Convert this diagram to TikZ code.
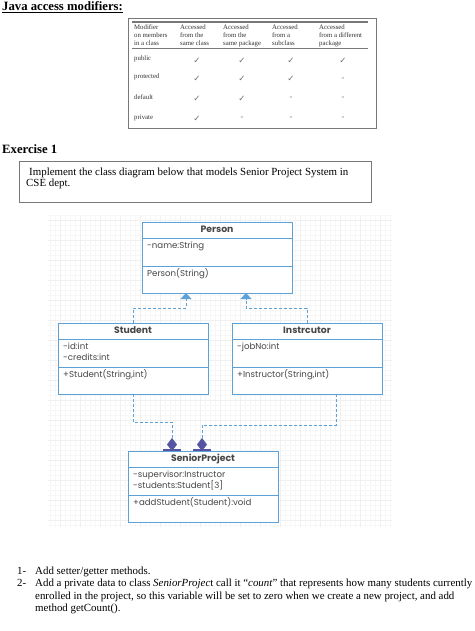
\documentclass[tikz,border=0pt]{standalone}
\usepackage{fontspec}
\setmainfont{Liberation Serif}
\newfontfamily\umlfont{Poppins}
\newfontfamily\symfont{DejaVu Sans}
\usepackage{xcolor}
\usetikzlibrary{calc, positioning, arrows.meta}

\definecolor{umlblue}{RGB}{92,161,216}
\definecolor{umlgray}{RGB}{70,70,70}
\definecolor{diamondblue}{RGB}{84,84,163}
\definecolor{tablegray}{RGB}{120,120,120}

\newcommand{\umlclass}[5]{%
  \node[class box] (#1) at (#2) {};
  \node[class title] (#1-title) at ($(#1.north)+(0,10.8)$) {#3};
  \draw[class line] ($(#1.north west)+(0,16)$) -- ($(#1.north east)+(0,16)$);
  \draw[class line] ($(#1.north west)+(0,44)$) -- ($(#1.north east)+(0,44)$);
  \foreach \txt [count=\k] in {#4}
    \node[class text] (#1-attr\k) at ($(#1.north west)+(5,15.5+11*\k)$) {\txt};
  \foreach \txt [count=\k] in {#5}
    \node[class text] (#1-op\k) at ($(#1.north west)+(5,43+11*\k)$) {\txt};
}

\begin{document}
\begin{tikzpicture}[x=1pt,y=-1pt,
    heading/.style={anchor=base west,inner sep=0pt,font=\bfseries\fontsize{12.7}{15}\selectfont},
    body/.style={anchor=base west,inner sep=0pt,font=\fontsize{10.9}{12.5}\selectfont},
    table head/.style={anchor=north west,align=left,inner sep=0pt,text=black!80,font=\fontsize{6.8}{7.6}\selectfont},
    table text/.style={anchor=base west,inner sep=0pt,text=black!80,font=\fontsize{6.8}{7.6}\selectfont},
    table mark/.style={inner sep=0pt,text=black!55,font=\fontsize{8.5}{9}\selectfont},
    class box/.style={draw=umlblue,line width=0.9pt,fill=white,anchor=north west,
      minimum width=150pt,minimum height=71pt,inner sep=0pt,outer sep=0pt},
    class line/.style={draw=umlblue,line width=0.9pt},
    class title/.style={anchor=base,inner sep=0pt,text=umlgray,font=\umlfont\bfseries\fontsize{9.3}{10}\selectfont},
    class text/.style={anchor=base west,inner sep=0pt,text=umlgray,font=\umlfont\fontsize{8.6}{10}\selectfont},
    realize/.style={draw=umlblue,line width=0.9pt,dash pattern=on 3pt off 2pt,
      -{Triangle[width=11pt,length=6pt]}},
    compose/.style={draw=umlblue,line width=0.9pt,dash pattern=on 3pt off 2pt,
      -{Diamond[width=10pt,length=13pt,color=diamondblue,fill=diamondblue]}}]

  \fill[white] (0,0) rectangle (474,631);
  \useasboundingbox (0,0) rectangle (474,631);

  \node[heading] (title) at (2,11) {\underline{Java access modifiers:}};

  % access table
  \draw[tablegray,line width=0.8pt] (128,18) rectangle (376,128);
  \draw[tablegray,line width=1.2pt] (132,22) -- (368,22);
  \draw[tablegray,line width=0.6pt] (132,48) -- (368,48);
  \foreach \x/\txt [count=\i] in {134/{Modifier\\on members\\in a class},
      180/{Accessed\\from the\\same class}, 223/{Accessed\\from the\\same package},
      272/{Accessed\\from a\\subclass}, 319/{Accessed\\from a different\\package}}
    \node[table head] (head\i) at (\x,25) {\txt};
  \foreach \txt/\y [count=\r] in {public/60.5, protected/79, default/100, private/120}
    \node[table text] (row\r) at (134,\y) {\txt};
  \foreach \r/\y/\n in {1/61/4, 2/79/3, 3/98.5/2, 4/118.5/1}
    \foreach \x [count=\c] in {197,242,291,343}
      \node[table mark] (cell\r-\c) at (\x,\y) {\ifnum\c>\n\relax -\else\symfont ✓\fi};

  \node[heading] (exercise) at (2,153.5) {Exercise 1};
  \draw[tablegray,line width=0.7pt] (19,161) rectangle (371,202);
  \node[body] (task1) at (29,175.5) {Implement the class diagram below that models Senior Project System in};
  \node[body] (task2) at (26,186.5) {CSE dept.};

  % class diagram
  \draw[black!3,line width=0.3pt,step=5pt] (48,527) grid (392,215);
  \draw[black!6,line width=0.3pt,step=20pt] (48,527) grid (392,215);

  \umlclass{person}{142,222}{Person}{-name:String}{Person(String)}
  \umlclass{student}{58,323}{Student}{-id:int,-credits:int}{{+Student(String,int)}}
  \umlclass{instructor}{232,323}{Instrcutor}{-jobNo:int}{{+Instructor(String,int)}}
  \umlclass{senior}{128,451}{SeniorProject}{-supervisor:Instructor,-students:Student[3]}{+addStudent(Student):void}

  \draw[realize] (student.north) -- ++(0,-15) -| ($(person.south west)+(44,0)$);
  \draw[realize] (instructor.north) -- ++(0,-15) -| ($(person.south west)+(104,0)$);
  \draw[compose] (student.south) -- ++(0,28) -| ($(senior.north west)+(44,0)$);
  \draw[compose] ($(instructor.south west)+(104,0)$) -- ++(0,31) -| ($(senior.north west)+(74,0)$);
  \draw[diamondblue,line width=1.2pt] ($(senior.north west)+(35,-1)$) -- ++(18,0);
  \draw[diamondblue,line width=1.2pt] ($(senior.north west)+(65,-1)$) -- ++(18,0);

  % tasks
  \node[body] (num1) at (17,574) {1-};
  \node[body] (item1) at (35,574) {Add setter/getter methods.};
  \node[body] (num2) at (17,586.5) {2-};
  \node[body] (item2) at (35,586.5) {Add a private data to class \textit{SeniorProjec}t call it “\textit{count}” that represents how many students currently};
  \node[body] (item2b) at (35,599) {enrolled in the project, so this variable will be set to zero when we create a new project, and add};
  \node[body] (item2c) at (35,611.5) {method getCount().};
\end{tikzpicture}
\end{document}
